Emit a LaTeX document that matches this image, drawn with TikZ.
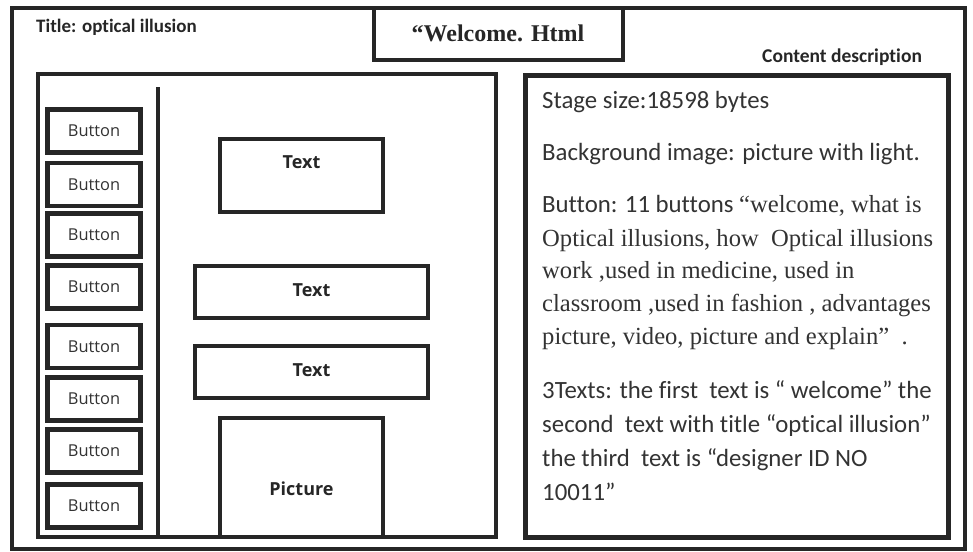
\documentclass[tikz,border=0pt]{standalone}
\usepackage{fontspec}
\setmainfont{Liberation Serif}
\newfontfamily\calib[Ligatures={NoCommon}]{Carlito}
\newfontfamily\uisans{Open Sans}
\begin{document}
\begin{tikzpicture}[x=1pt,y=-1pt,
  frame/.style={draw=black!85, line width=4pt},
  panel/.style={draw=black!85, line width=4.5pt, inner sep=0pt, outer sep=0pt},
  btn/.style={draw=black!85, line width=4.5pt, minimum width=93pt, minimum height=43pt,
    inner sep=0pt, outer sep=0pt, font=\uisans\fontsize{16.4}{18}\selectfont, text=black!80},
  slot/.style={draw=black!85, line width=4.5pt, inner sep=0pt, outer sep=0pt},
  slotlbl/.style={font=\uisans\bfseries\fontsize{18}{20}\selectfont, text=black!85, inner sep=0pt},
  cal/.style={font=\calib\fontsize{24.8}{28}\selectfont, text=black!80, anchor=base west, inner sep=0pt},
  ser/.style={font=\fontsize{24.6}{28}\selectfont, text=black!80, anchor=base west, inner sep=0pt},
  head/.style={font=\calib\bfseries\fontsize{19.5}{22}\selectfont, text=black!85, anchor=base west, inner sep=0pt}]
\useasboundingbox (0,0) rectangle (973,551);
\fill[white] (0,0) rectangle (973,551);

% page frame and title box
\draw[frame] (12,8) rectangle (965,549);
\node[panel, line width=4pt, minimum width=249pt, minimum height=52pt] (page) at (498.5,34) {};
\node[font=\bfseries\fontsize{24}{26}\selectfont, text=black!85, inner sep=0pt] (pagename) at (498,33) {“Welcome. Html};
\node[head, font=\calib\bfseries\fontsize{19}{22}\selectfont] (title) at (36,33) {Title: optical illusion};
\node[head] (cdesc) at (762,63) {Content description};

% left layout panel
\node[panel, minimum width=458pt, minimum height=463pt] (lay) at (267,305.5) {};
\coordinate (divtop) at (158,87);
\coordinate (divbot) at (158,537);
\draw[draw=black!85, line width=3.5pt] (divtop) -- (divbot);

% navigation buttons
\node[btn] (b1) at (94,131) {Button};
\node[btn] (b2) at (94,184.5) {Button};
\node[btn] (b3) at (94,235) {Button};
\node[btn] (b4) at (94,287) {Button};
\node[btn] (b5) at (94,346.5) {Button};
\node[btn] (b6) at (94,399) {Button};
\node[btn] (b7) at (94,451) {Button};
\node[btn] (b8) at (94,506) {Button};

% content slots
\node[slot, minimum width=163pt, minimum height=73pt] (t1) at (301.5,175.5) {};
\node[slotlbl] (t1l) at (301.5,162) {Text};
\node[slot, minimum width=233pt, minimum height=52pt] (t2) at (311.5,292) {};
\node[slotlbl] (t2l) at (311.5,290) {Text};
\node[slot, minimum width=233pt, minimum height=52pt] (t3) at (311.5,372) {};
\node[slotlbl] (t3l) at (311.5,370) {Text};
\node[slot, minimum width=163pt, minimum height=119pt] (pic) at (301.5,477.5) {};
\node[slotlbl] (picl) at (301.5,489) {Picture};

% description panel
\node[panel, line width=5pt, minimum width=423pt, minimum height=462pt] (desc) at (736.5,306) {};
\node[cal] (d1) at (542,108) {Stage size:18598 bytes};
\node[cal] (d2) at (542,160) {Background image: picture with light.};
\node[cal] (d3) at (542,212) {Button: 11 buttons {\rmfamily\fontsize{24.6}{28}\selectfont “welcome, what is}};
\node[ser] (d4) at (542,246) {Optical illusions, how\ \ Optical illusions};
\node[ser] (d5) at (542,278) {work ,used in medicine, used in};
\node[ser] (d6) at (542,311) {classroom ,used in fashion , advantages};
\node[ser] (d7) at (542,344) {picture, video, picture and explain”\ \ .};
\node[cal] (d8) at (542,398) {3Texts: the first\ \ text is “ welcome” the};
\node[cal] (d9) at (542,432) {second\ \ text with title “optical illusion”};
\node[cal] (d10) at (542,466) {the third\ \ text is “designer ID NO};
\node[cal] (d11) at (542,500) {10011”};
\end{tikzpicture}
\end{document}
